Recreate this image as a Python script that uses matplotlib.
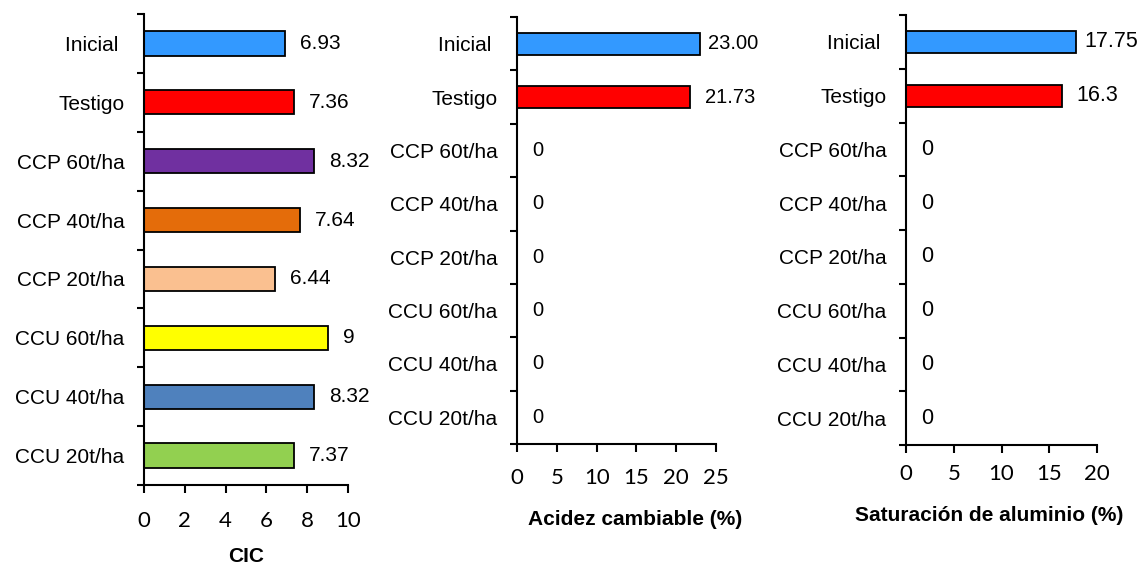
import matplotlib
matplotlib.use("Agg")
import matplotlib.pyplot as plt
import matplotlib.transforms as mtransforms

# data
categorias = ["Inicial ", "Testigo", "CCP 60t/ha", "CCP 40t/ha", "CCP 20t/ha",
              "CCU 60t/ha", "CCU 40t/ha", "CCU 20t/ha"]
colores = ["#3399FF", "#FF0000", "#7030A0", "#E46C0A", "#FAC090",
           "#FFFF00", "#4F81BD", "#92D050"]

cic = [6.93, 7.36, 8.32, 7.64, 6.44, 9, 8.32, 7.37]
cic_txt = ["6.93", "7.36", "8.32", "7.64", "6.44", "9", "8.32", "7.37"]

acidez = [23.00, 21.73, 0, 0, 0, 0, 0, 0]
acidez_txt = ["23.00", "21.73", "0", "0", "0", "0", "0", "0"]

saturacion = [17.75, 16.3, 0, 0, 0, 0, 0, 0]
saturacion_txt = ["17.75", "16.3", "0", "0", "0", "0", "0", "0"]

W, H = 1141, 571
fig = plt.figure(figsize=(W / 100, H / 100), dpi=100)
renderer = fig.canvas.get_renderer()

ARIAL = "Liberation Sans"
CALIBRI = "Lato"


def add_panel(box, values, texts, xmax, xstep, xlabel, label_xy, tick_pad,
              val_size, limit_px):
    left, top, right, bottom = box
    ax = fig.add_axes([left / W, (H - bottom) / H, (right - left) / W, (bottom - top) / H])
    n = len(values)
    pos = list(range(n))
    ax.barh(pos, values, height=0.41, color=colores, edgecolor="black", linewidth=1.3)
    ax.set_ylim(n - 0.5, -0.5)
    ax.set_xlim(0, xmax)

    for s in ["top", "right"]:
        ax.spines[s].set_visible(False)
    for s in ["left", "bottom"]:
        ax.spines[s].set_linewidth(1.5)

    ax.set_yticks(pos)
    ax.set_yticklabels(categorias, fontsize=15, family=ARIAL)
    ax.tick_params(axis="y", which="major", length=0, pad=14)
    ax.set_yticks([p - 0.5 for p in pos] + [n - 0.5], minor=True)
    ax.tick_params(axis="y", which="minor", length=5, width=1.5, direction="out")

    ticks = list(range(0, xmax + 1, xstep))
    ax.set_xticks(ticks)
    ax.set_xticklabels([str(t) for t in ticks], fontsize=16, family=CALIBRI)
    ax.tick_params(axis="x", length=6, width=1.5, direction="out", pad=tick_pad)

    ax.set_xlabel(xlabel, fontsize=15, family=ARIAL, fontweight="bold", va="center")
    ax.xaxis.set_label_coords(*label_xy)

    # value labels, pushed back inside the chart area when they overflow
    for i, (v, s) in enumerate(zip(values, texts)):
        off = mtransforms.ScaledTranslation(15 / 100, 0, fig.dpi_scale_trans)
        t = ax.text(v, i, s, transform=ax.transData + off, ha="left", va="center",
                    fontsize=val_size, family=ARIAL)
        bb = t.get_window_extent(renderer)
        over = bb.x1 - limit_px
        if over > 0:
            t.set_transform(ax.transData + mtransforms.ScaledTranslation(
                (15 - over) / 100, 0, fig.dpi_scale_trans))
    return ax


add_panel((144, 14, 348, 485), cic, cic_txt, 10, 2, "CIC",
          (0.5, -0.151), 12.5, 15, 380)
add_panel((517, 17, 716, 444), acidez, acidez_txt, 25, 5, "Acidez cambiable (%)",
          (0.593, -0.176), 11.5, 14.5, 758)
add_panel((906, 15, 1097, 445), saturacion, saturacion_txt, 20, 5,
          "Saturación de aluminio (%)", (0.435, -0.165), 7.5, 15.5, 1138)

fig.savefig("out.png", dpi=100)
